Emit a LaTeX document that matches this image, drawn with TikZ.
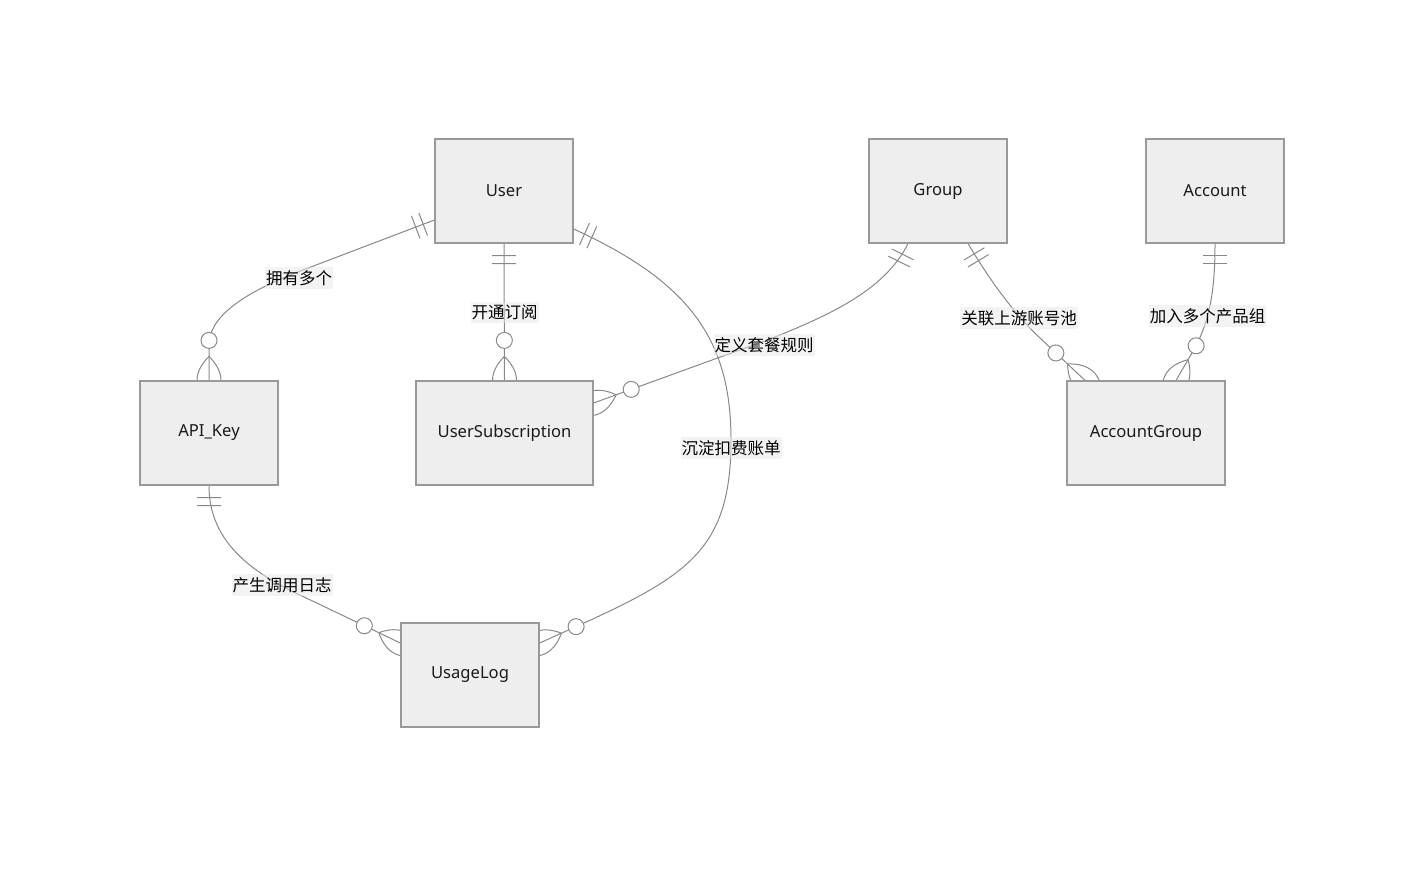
\documentclass[tikz,border=0pt]{standalone}
\usepackage{fontspec}
\setmainfont{Noto Sans}
\newfontfamily\cjk{Noto Sans CJK SC}
\usetikzlibrary{decorations.markings}
\definecolor{boxfill}{HTML}{EEEEEE}
\definecolor{boxline}{HTML}{999999}
\definecolor{edgecol}{HTML}{888888}
\definecolor{lblbg}{HTML}{E8E8E8}
\definecolor{txt}{HTML}{1A1A1A}
\pgfdeclarelayer{edgelayer}
\pgfsetlayers{edgelayer,main}
\begin{document}
\begin{tikzpicture}[x=1pt,y=-1pt,
  entity/.style={draw=boxline, fill=boxfill, line width=1.2pt, minimum height=104pt,
    inner sep=0pt, text=txt, font=\fontsize{16.6}{19}\selectfont},
  rel/.style={draw=edgecol, line width=1pt, postaction={decorate},
    decoration={markings,
      mark=at position 0 with {\draw[edgecol, line width=1pt] (12,-12)--(12,12) (20,-12)--(20,12);},
      mark=at position 0.99999 with {\draw[edgecol, line width=1pt] (-24,0) .. controls (-8,16) and (8,16) .. (24,0) .. controls (8,-16) and (-8,-16) .. (-24,0);
        \draw[edgecol, line width=1pt, fill=white] (-40,0) circle[radius=8];}}},
  lbl/.style={fill=lblbg, fill opacity=0.5, text opacity=1, text=black, inner xsep=1pt,
    inner ysep=0pt, minimum height=21.5pt, font=\cjk\fontsize{16.5}{19}\selectfont}
]
\useasboundingbox (0,0) rectangle (1424,884);

\node[entity, minimum width=138pt] (user) at (504,191) {User};
\node[entity, minimum width=138pt] (group) at (938,191) {Group};
\node[entity, minimum width=138pt] (account) at (1215,191) {Account};
\node[entity, minimum width=138pt] (apikey) at (209,433) {API\_Key};
\node[entity, minimum width=177pt] (usersub) at (504.5,433) {UserSubscription};
\node[entity, minimum width=158pt] (accgroup) at (1146,433) {AccountGroup};
\node[entity, minimum width=138pt] (usage) at (470,675) {UsageLog};

\begin{pgfonlayer}{edgelayer}
\draw[rel] ([yshift=-29pt]user.west) -- (295,273) .. controls (240,295) and (209,318) .. (209,345) -- (apikey.north);
\draw[rel] (user.south) -- (usersub.north);
\draw[rel] ([yshift=-38pt]user.east) .. controls (690,282) and (731,340) .. (731,440) .. controls (731,560) and (680,580) .. ([yshift=32pt]usage.east);
\draw[rel] ([xshift=-30pt]group.south) .. controls (885,290) and (830,315) .. (770,339) -- ([yshift=30pt]usersub.east);
\draw[rel] ([xshift=30pt]group.south) .. controls (985,272) and (1010,310) .. (1040,338) -- ([xshift=-61pt]accgroup.north);
\draw[rel] (account.south) .. controls (1215,290) and (1210,318) .. (1196,346) -- ([xshift=30pt]accgroup.north);
\draw[rel] (apikey.south) .. controls (209,530) and (235,565) .. (300,595) -- ([yshift=32pt]usage.west);

\node[lbl] (l1) at (299,278) {拥有多个};
\node[lbl] (l2) at (504.5,312.5) {开通订阅};
\node[lbl] (l3) at (731,448) {沉淀扣费账单};
\node[lbl] (l4) at (764,345) {定义套餐规则};
\node[lbl] (l5) at (1019,318) {关联上游账号池};
\node[lbl] (l6) at (1207.5,316) {加入多个产品组};
\node[lbl] (l7) at (282,585) {产生调用日志};
\end{pgfonlayer}
\end{tikzpicture}
\end{document}
